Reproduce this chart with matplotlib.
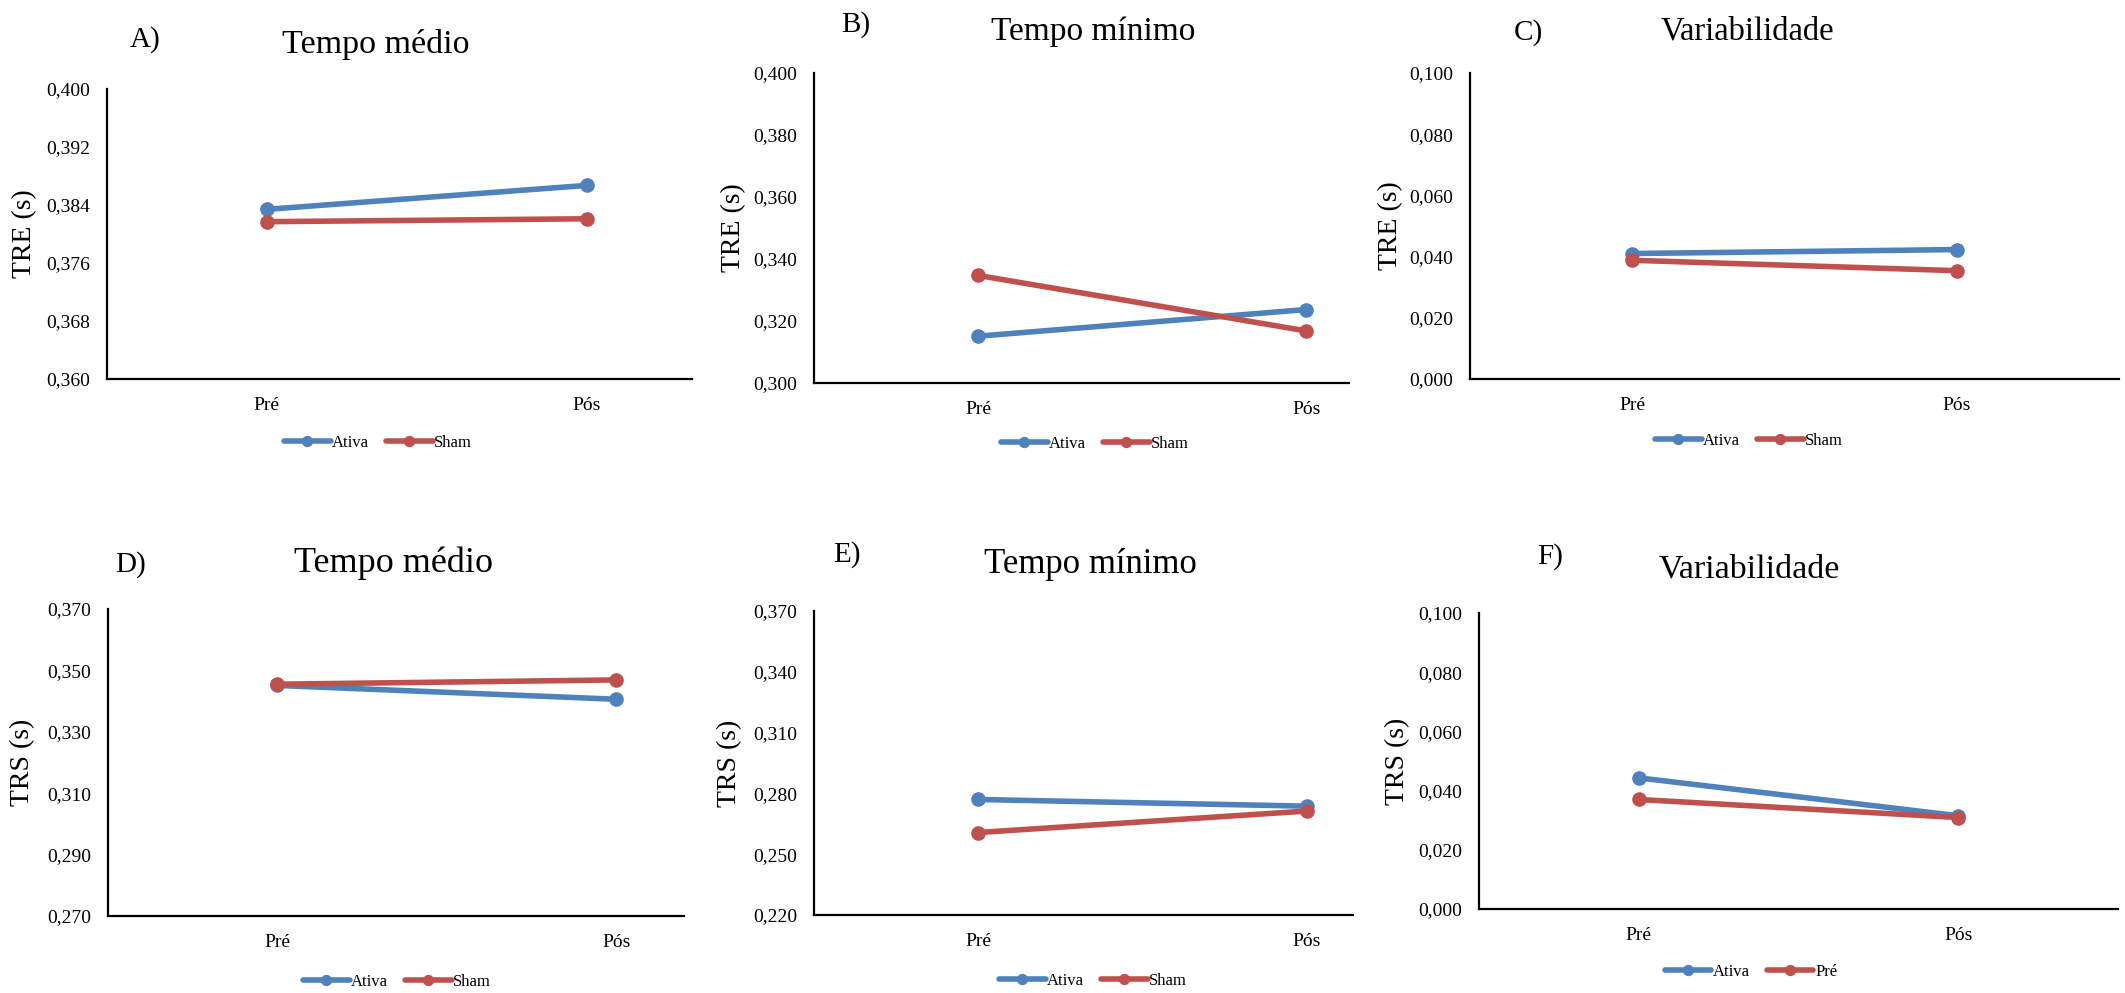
import numpy as np
import matplotlib
matplotlib.use("Agg")
import matplotlib.pyplot as plt
from matplotlib.ticker import FuncFormatter

plt.rcParams['font.family'] = ['Liberation Serif', 'DejaVu Serif']

W, H = 2125, 993

# ---- data ----
fases = ['Pré', 'Pós']
letras = ['A)', 'B)', 'C)', 'D)', 'E)', 'F)']
titulos = ['Tempo médio', 'Tempo mínimo', 'Variabilidade',
           'Tempo médio', 'Tempo mínimo', 'Variabilidade']
ylabels = ['TRE (s)', 'TRE (s)', 'TRE (s)', 'TRS (s)', 'TRS (s)', 'TRS (s)']
serie1 = ['Ativa'] * 6
serie2 = ['Sham', 'Sham', 'Sham', 'Sham', 'Sham', 'Pré']

ativa_A = [0.3834, 0.3867]
sham_A = [0.3817, 0.3821]
ativa_B = [0.3151, 0.3237]
sham_B = [0.3347, 0.3168]
ativa_C = [0.0410, 0.0423]
sham_C = [0.0388, 0.0354]
ativa_D = [0.3451, 0.3406]
sham_D = [0.3455, 0.3469]
ativa_E = [0.2770, 0.2737]
sham_E = [0.2607, 0.2713]
ativa_F = [0.0443, 0.0315]
sham_F = [0.0370, 0.0309]

ativa = [ativa_A, ativa_B, ativa_C, ativa_D, ativa_E, ativa_F]
sham = [sham_A, sham_B, sham_C, sham_D, sham_E, sham_F]

# y ticks of each panel
yticks_A = [0.360, 0.368, 0.376, 0.384, 0.392, 0.400]
yticks_B = [0.300, 0.320, 0.340, 0.360, 0.380, 0.400]
yticks_C = [0.000, 0.020, 0.040, 0.060, 0.080, 0.100]
yticks_D = [0.270, 0.290, 0.310, 0.330, 0.350, 0.370]
yticks_E = [0.220, 0.250, 0.280, 0.310, 0.340, 0.370]
yticks_F = [0.000, 0.020, 0.040, 0.060, 0.080, 0.100]
yticks = [yticks_A, yticks_B, yticks_C, yticks_D, yticks_E, yticks_F]

# ---- layout in pixels (left, top, right, bottom) ----
boxes = [(107, 89, 692, 379), (814, 73, 1349, 383), (1470, 73, 2119, 379),
         (108, 609, 684, 916), (814, 611, 1353, 915), (1479, 613, 2118, 909)]
xright = [1.33, 1.13, 1.5, 1.2, 1.14, 1.5]
title_pos = [(376, 53, 24.5), (1093, 40, 24), (1747, 40, 23.5),
             (394, 572, 26), (1090, 573, 25), (1749, 577, 24.5)]
letter_pos = [(130, 47), (841, 32), (1514, 40), (115, 572), (833, 562), (1537, 564)]
ylab_x = [37, 746, 1403, 35, 742, 1410]   # right edge of the rotated label
leg_pos = [(378, 443), (1095, 444), (1749, 441), (397, 982), (1093, 981), (1751, 972)]

AZUL = '#4F81BD'
VERM = '#C0504D'


def fx(x):
    return x / W


def fy(y):
    return 1 - y / H


fig = plt.figure(figsize=(W / 100, H / 100), dpi=100)
fig.patch.set_facecolor('white')

for i in range(6):
    l, t, r, b = boxes[i]
    ax = fig.add_axes([fx(l), fy(b), (r - l) / W, (b - t) / H])
    x = np.arange(len(fases))
    h1, = ax.plot(x, ativa[i], color=AZUL, lw=4, marker='o', ms=9.5,
                  solid_capstyle='round', label=serie1[i])
    h2, = ax.plot(x, sham[i], color=VERM, lw=4, marker='o', ms=9.5,
                  solid_capstyle='round', label=serie2[i])

    ax.set_ylim(yticks[i][0], yticks[i][-1])
    ax.set_yticks(yticks[i])
    ax.yaxis.set_major_formatter(FuncFormatter(lambda v, p: f"{v:.3f}".replace('.', ',')))
    ax.set_xlim(-0.5, xright[i])
    ax.set_xticks(x)
    ax.set_xticklabels(fases)
    ax.tick_params(axis='both', length=0, labelsize=14)
    ax.tick_params(axis='y', pad=12)
    ax.tick_params(axis='x', pad=13)

    for s in ['top', 'right']:
        ax.spines[s].set_visible(False)
    for s in ['left', 'bottom']:
        ax.spines[s].set_linewidth(1.6)
        ax.spines[s].set_color('black')

    ax.set_ylabel(ylabels[i], fontsize=20)
    ax.yaxis.set_label_coords((ylab_x[i] - l) / (r - l), 0.5)

    tx, ty, ts = title_pos[i]
    fig.text(fx(tx), fy(ty), titulos[i], fontsize=ts, ha='center', va='baseline')
    lx, ly = letter_pos[i]
    fig.text(fx(lx), fy(ly), letras[i], fontsize=21, ha='left', va='baseline')

    gx, gy = leg_pos[i]
    fig.legend(handles=[h1, h2], loc='center', bbox_to_anchor=(fx(gx), fy(gy)),
               ncol=2, frameon=False, fontsize=12, handlelength=2.8,
               handletextpad=0.1, columnspacing=1.0, markerscale=0.75,
               borderaxespad=0, borderpad=0)

fig.savefig('out.png', dpi=100, facecolor='white')
